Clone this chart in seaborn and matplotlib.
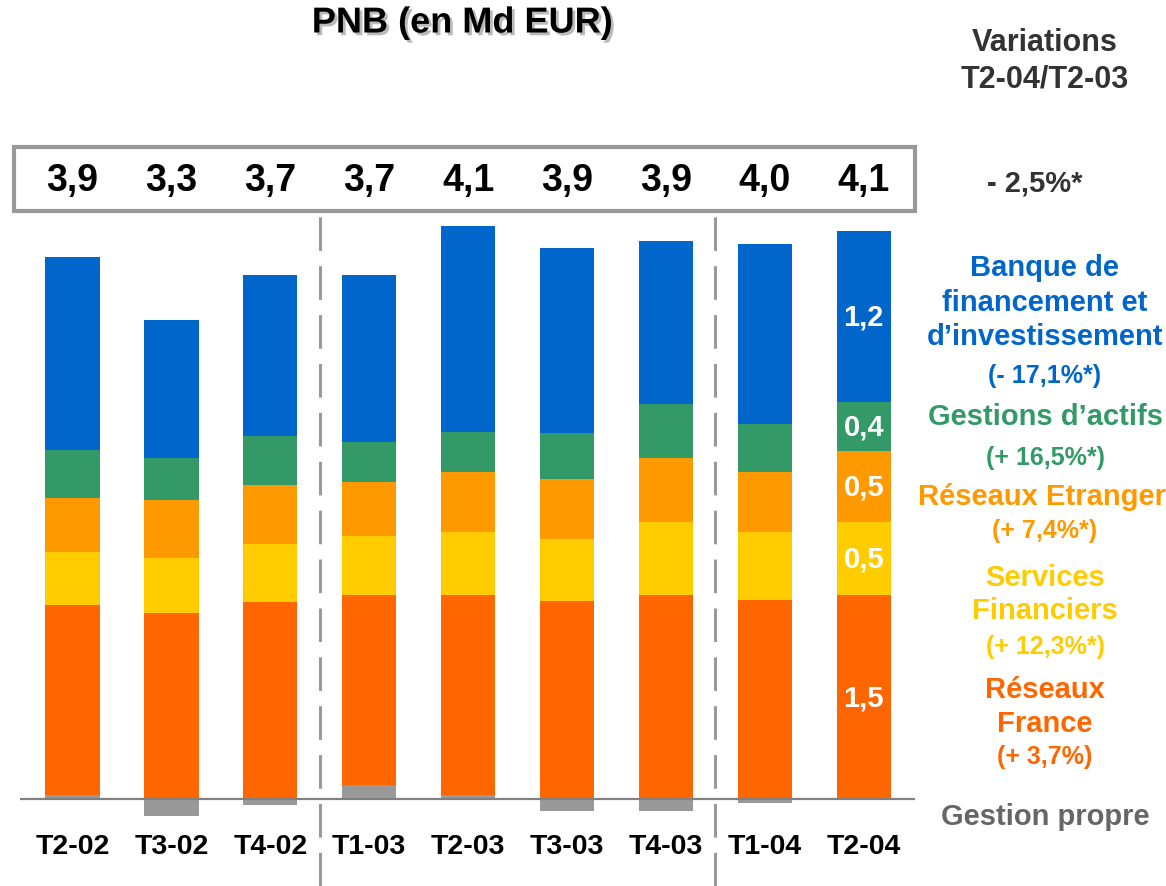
import pandas as pd
import matplotlib.pyplot as plt
import matplotlib.patheffects as pe
from matplotlib.patches import Rectangle
import seaborn as sns

# Data (Md EUR)
quarters = ["T2-02", "T3-02", "T4-02", "T1-03", "T2-03", "T3-03", "T4-03", "T1-04", "T2-04"]
totals = ["3,9", "3,3", "3,7", "3,7", "4,1", "3,9", "3,9", "4,0", "4,1"]
gestion_propre = [0.03, -0.12, -0.04, 0.10, 0.03, -0.09, -0.09, -0.03, -0.01]
reseaux_france = [1.37, 1.34, 1.42, 1.37, 1.44, 1.43, 1.47, 1.44, 1.47]
services_fin = [0.38, 0.40, 0.42, 0.43, 0.46, 0.45, 0.53, 0.49, 0.53]
reseaux_etr = [0.39, 0.42, 0.43, 0.39, 0.43, 0.43, 0.46, 0.43, 0.51]
gestions_actifs = [0.35, 0.30, 0.35, 0.29, 0.29, 0.33, 0.39, 0.35, 0.36]
bfi = [1.39, 1.00, 1.16, 1.20, 1.49, 1.34, 1.18, 1.30, 1.23]
last_labels = ["1,5", "0,5", "0,5", "0,4", "1,2"]  # T2-04, bottom to top

c_bfi = "#0066CC"
c_ga = "#339966"
c_re = "#FF9900"
c_sf = "#FFCC00"
c_rf = "#FF6600"
c_gp = "#999999"

sns.set_style("white")
plt.rcParams["font.family"] = ["Liberation Sans", "DejaVu Sans"]
plt.rcParams["font.weight"] = "bold"

df = pd.DataFrame({
    "Trimestre": quarters,
    "GP": gestion_propre,
    "RF": reseaux_france,
    "SF": services_fin,
    "RE": reseaux_etr,
    "GA": gestions_actifs,
    "BFI": bfi,
})

# cumulative tops for stacking (positive segments start above a positive gestion propre)
df["base"] = df["GP"].clip(lower=0)
df["top_RF"] = df["base"] + df["RF"]
df["top_SF"] = df["top_RF"] + df["SF"]
df["top_RE"] = df["top_SF"] + df["RE"]
df["top_GA"] = df["top_RE"] + df["GA"]
df["top_BFI"] = df["top_GA"] + df["BFI"]

fig = plt.figure(figsize=(11.66, 8.87), dpi=100)
ax = fig.add_axes([0, 0, 1, 1])

W, H = 1166, 887
x0, dx = 72.5, 98.9      # pixel centre of first bar, bar spacing
y0, dy = 800, 138.5      # pixel baseline, pixels per Md EUR

layers = [("top_BFI", c_bfi), ("top_GA", c_ga), ("top_RE", c_re),
          ("top_SF", c_sf), ("top_RF", c_rf), ("GP", c_gp)]
for col, colr in layers:
    sns.barplot(data=df, x="Trimestre", y=col, order=quarters, color=colr,
                saturation=1, width=0.55, linewidth=0, errorbar=None, ax=ax)

ax.set_xlim(-x0 / dx, (W - x0) / dx)
ax.set_ylim(-(H - y0) / dy, y0 / dy)
ax.set_axis_off()

# baseline
ax.hlines(0, (20 - x0) / dx, (915 - x0) / dx, color="#808080", lw=1.6, zorder=5)

# dashed separators between years
for xs in [2.5, 6.5]:
    ax.vlines(xs, -(H - y0) / dy, (y0 - 212) / dy, color="#999999", lw=2.2,
              linestyles=(0, (11, 5)), zorder=5)

# totals box
fig.patches.append(Rectangle((14 / W, 1 - 212 / H), 901 / W, 64 / H,
                             transform=fig.transFigure, fill=False,
                             ec="#999999", lw=3))
for i, t in enumerate(totals):
    ax.text(i, (y0 - 181) / dy, t, ha="center", va="center",
            fontsize=27, fontweight="bold", color="black")

# quarter labels
for i, q in enumerate(quarters):
    ax.text(i, (y0 - 847) / dy, q, ha="center", va="center",
            fontsize=20.5, fontweight="bold", color="black")

# values inside the last bar
last = df.iloc[-1]
bounds = [last["base"], last["top_RF"], last["top_SF"], last["top_RE"],
          last["top_GA"], last["top_BFI"]]
for k, lab in enumerate(last_labels):
    ax.text(len(quarters) - 1, (bounds[k] + bounds[k + 1]) / 2, lab,
            ha="center", va="center", fontsize=21, fontweight="bold", color="white")

# title
fig.text(462 / W, 1 - 24 / H, "PNB (en Md EUR)", ha="center", va="center",
         fontsize=26, fontweight="bold", color="black",
         path_effects=[pe.withSimplePatchShadow(offset=(2, -2), shadow_rgbFace="#777777", alpha=0.5)])

# right side
xr = 1045 / W
def rtext(py, s, color, size=21):
    fig.text(xr, 1 - py / H, s, ha="center", va="center", fontsize=size,
             fontweight="bold", color=color)

rtext(43, "Variations", "#333333", 22)
rtext(80, "T2-04/T2-03", "#333333", 22)
fig.text(1035 / W, 1 - 184 / H, "- 2,5%*", ha="center", va="center",
         fontsize=21, fontweight="bold", color="#333333")

rtext(268, "Banque de", c_bfi)
rtext(303, "financement et", c_bfi)
rtext(337, "d\u2019investissement", c_bfi)
rtext(376, "(- 17,1%*)", c_bfi, 18)

rtext(417, "Gestions d\u2019actifs", c_ga)
rtext(458, "(+ 16,5%*)", c_ga, 18)

fig.text(918 / W, 1 - 497 / H, "Réseaux Etranger", ha="left", va="center",
         fontsize=21, fontweight="bold", color=c_re)
rtext(531, "(+ 7,4%*)", c_re, 18)

rtext(578, "Services", c_sf)
rtext(611, "Financiers", c_sf)
rtext(647, "(+ 12,3%*)", c_sf, 18)

rtext(690, "Réseaux", c_rf)
rtext(724, "France", c_rf)
rtext(757, "(+ 3,7%)", c_rf, 18)

rtext(817, "Gestion propre", "#666666")

fig.savefig("out.png", dpi=100)
